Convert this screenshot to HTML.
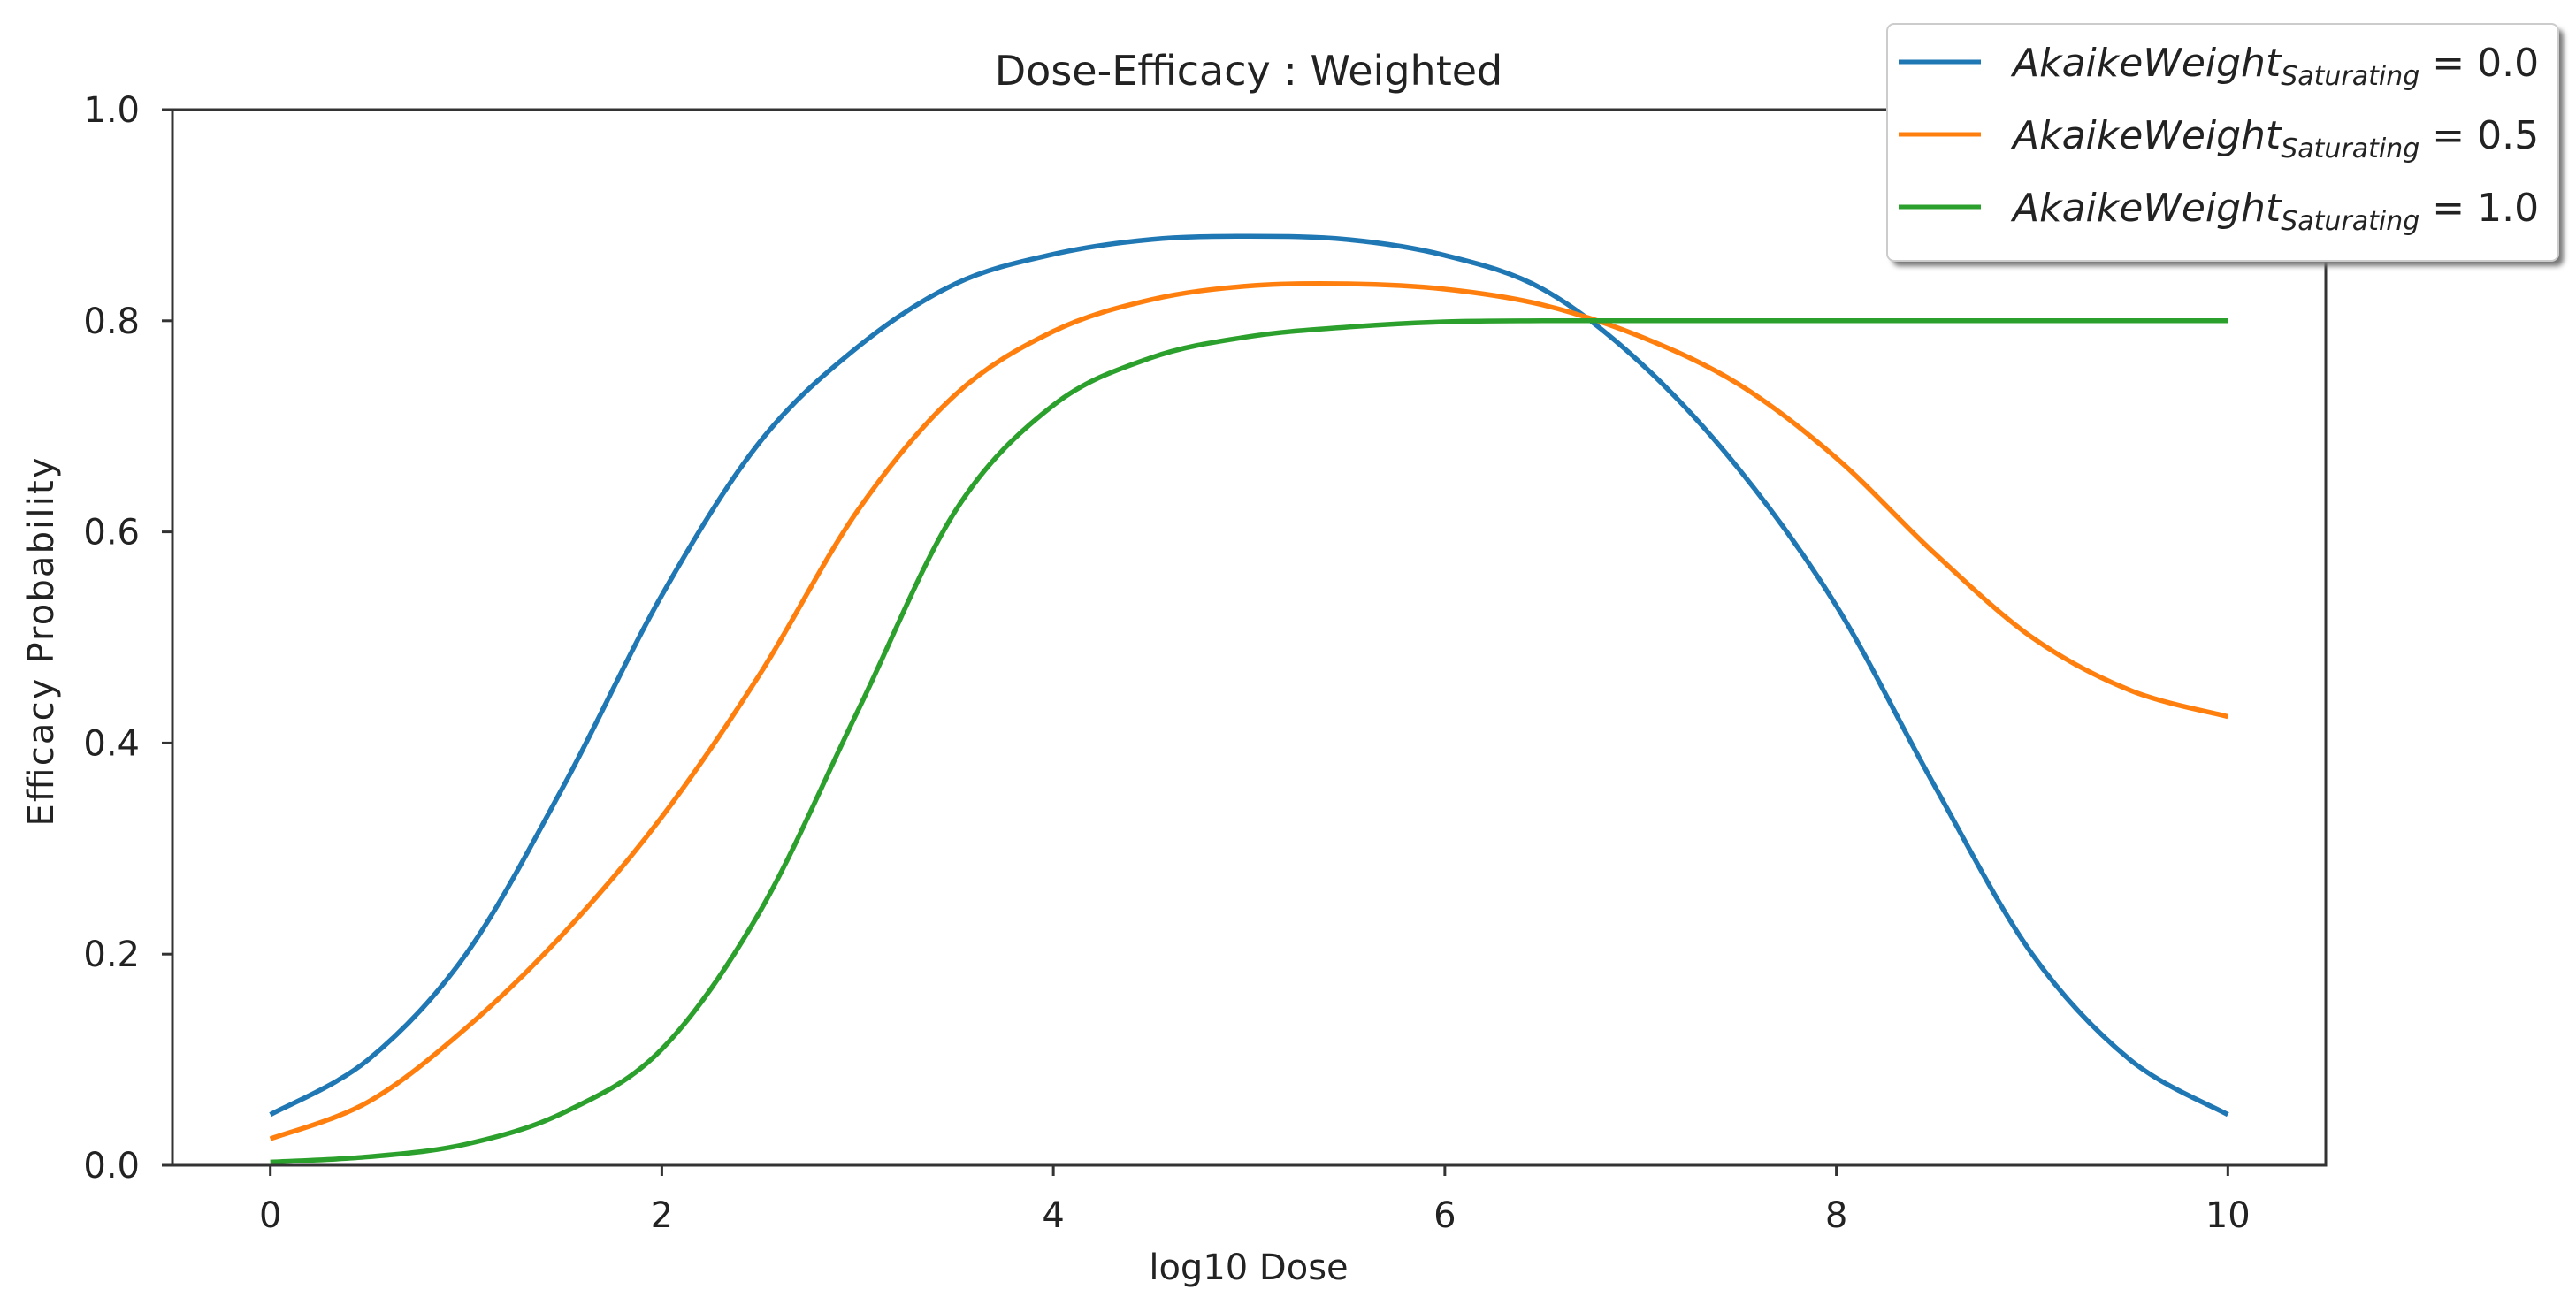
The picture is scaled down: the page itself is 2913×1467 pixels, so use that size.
<!DOCTYPE html>
<html><head><meta charset="utf-8"><style>
html,body{margin:0;padding:0;background:#fff;}
svg{display:block;font-family:"DejaVu Sans","Liberation Sans",sans-serif;}
</style></head><body>
<svg id="chart" width="2913" height="1467" viewBox="0 0 2913 1467">
<defs><filter id="sh" x="-5%" y="-5%" width="115%" height="120%"><feGaussianBlur stdDeviation="3"/></filter></defs>
<rect x="0" y="0" width="2913" height="1467" fill="#fff"/>
<g id="plot"></g>
<text x="1412" y="96" font-size="46" text-anchor="middle" fill="#222">Dose-Efficacy : Weighted</text>
<text x="1412" y="1447" font-size="40" text-anchor="middle" fill="#222">log10 Dose</text>
<text transform="translate(60,726) rotate(-90)" font-size="40" text-anchor="middle" fill="#222" textLength="417">Efficacy Probability</text>
<g>
<rect x="2140" y="33" width="759" height="268" rx="8" fill="#777" filter="url(#sh)"/>
<rect x="2134" y="27" width="759" height="268" rx="8" fill="#fff" stroke="#ccc" stroke-width="2"/>
<g id="legend-entries"></g>
</g>
</svg>
<script>
const xValues = [0,0.5,1,1.5,2,2.5,3,3.5,4,4.5,5,5.5,6,6.5,7,7.5,8,8.5,9,9.5,10];
const blueValues = [0.048,0.10,0.20,0.36,0.54,0.685,0.775,0.835,0.863,0.877,0.88,0.877,0.862,0.83,0.76,0.66,0.53,0.36,0.20,0.10,0.048];
const orangeValues = [0.025,0.06,0.13,0.22,0.33,0.465,0.62,0.73,0.79,0.82,0.833,0.835,0.83,0.815,0.785,0.74,0.67,0.58,0.50,0.45,0.425];
const greenValues = [0.003,0.008,0.02,0.05,0.11,0.24,0.43,0.62,0.72,0.765,0.785,0.794,0.799,0.8,0.8,0.8,0.8,0.8,0.8,0.8,0.8];
const xTicks = [0,2,4,6,8,10];
const yTicks = [0,0.2,0.4,0.6,0.8,1.0];
const yTickLabels = ["0.0","0.2","0.4","0.6","0.8","1.0"];
const seriesLabels = ["0.0","0.5","1.0"];
const seriesColors = ["#1f77b4","#ff7f0e","#2ca02c"];

const NS="http://www.w3.org/2000/svg";
const L=195,R=2630,T=124,B=1318,X0=-0.5,X1=10.5;
function sx(v){return L+(v-X0)/(X1-X0)*(R-L);}
function sy(v){return B-v*(B-T);}
const plot=document.getElementById('plot');
function mk(tag,attrs,parent){const e=document.createElementNS(NS,tag);for(const k in attrs)e.setAttribute(k,attrs[k]);(parent||plot).appendChild(e);return e;}
function pathFor(ys){
  const p=xValues.map((x,i)=>[sx(x),sy(ys[i])]);
  let d=`M${p[0][0]},${p[0][1]}`;
  for(let i=0;i<p.length-1;i++){
    const p0=p[Math.max(i-1,0)],p1=p[i],p2=p[i+1],p3=p[Math.min(i+2,p.length-1)];
    const c1=[p1[0]+(p2[0]-p0[0])/6,p1[1]+(p2[1]-p0[1])/6];
    const c2=[p2[0]-(p3[0]-p1[0])/6,p2[1]-(p3[1]-p1[1])/6];
    d+=` C${c1[0]},${c1[1]} ${c2[0]},${c2[1]} ${p2[0]},${p2[1]}`;
  }
  return d;
}
[blueValues,orangeValues,greenValues].forEach((ys,i)=>{
  const el=mk('path',{d:pathFor(ys),fill:'none',stroke:seriesColors[i],'stroke-width':5.5,'stroke-linejoin':'round'});
  
  
});
const frame=mk('rect',{x:L,y:T,width:R-L,height:B-T,fill:'none',stroke:'#333','stroke-width':3});


xTicks.forEach(v=>{
  const t=mk('line',{x1:sx(v),x2:sx(v),y1:B,y2:B+12,stroke:'#333','stroke-width':3});
  
  
  const lb=mk('text',{x:sx(v),y:1388,'font-size':40,'text-anchor':'middle',fill:'#222'});
  lb.textContent=String(v);
  
  
});
yTicks.forEach((v,i)=>{
  const t=mk('line',{x1:L-12,x2:L,y1:sy(v),y2:sy(v),stroke:'#333','stroke-width':3});
  
  
  const lb=mk('text',{x:158,y:sy(v)+14,'font-size':40,'text-anchor':'end',fill:'#222'});
  lb.textContent=yTickLabels[i];
  
  
});
const lg=document.getElementById('legend-entries');
seriesLabels.forEach((s,i)=>{
  const y=70+i*82;
  const ln=mk('line',{x1:2147,x2:2240,y1:y,y2:y,stroke:seriesColors[i],'stroke-width':5},lg);
  
  
  const tx=mk('text',{x:2276,y:y+16,'font-size':44,fill:'#222'},lg);
  
  
  const a=mk('tspan',{'font-style':'italic'},tx);a.textContent='AkaikeWeight';
  const b=mk('tspan',{'font-style':'italic','font-size':30,dy:10},tx);b.textContent='Saturating';
  const c=mk('tspan',{dy:-10},tx);c.textContent=' = '+s;
});
</script>
</body></html>
